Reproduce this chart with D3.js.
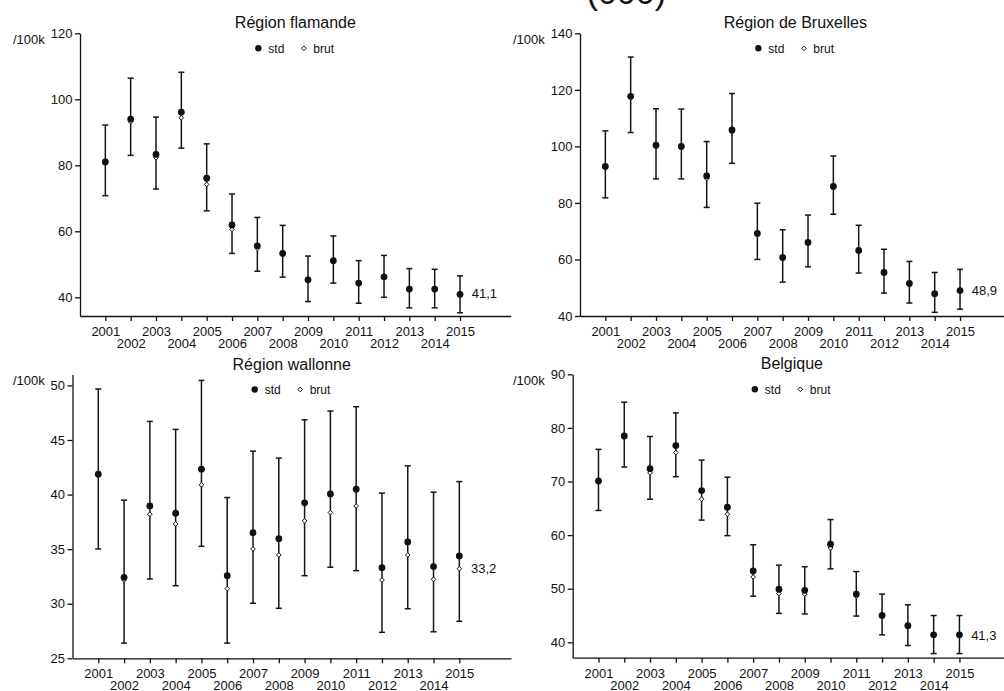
<!DOCTYPE html>
<html>
<head>
<meta charset="utf-8">
<script src="https://cdn.jsdelivr.net/npm/d3@7"></script>
<style>
  body { margin: 0; background: #fff; }
  svg { display: block; font-family: "Liberation Sans", Arial, sans-serif; }
</style>
</head>
<body>
<div id="chart"></div>
<script>
        // years on the x axis
        var years = d3.range(2001, 2016);

        // Région flamande
        var flaStd  = [81.0, 94.0, 83.3, 96.1, 76.1, 61.9, 55.6, 53.3, 45.3, 51.1, 44.3, 46.2, 42.5, 42.5, 40.9];
        var flaBrut = [81.0, 93.2, 82.3, 94.4, 74.2, 60.6, 54.8, 53.1, 45.3, 51.0, 44.3, 46.1, 42.4, 42.3, 41.1];
        var flaLo   = [70.8, 83.0, 72.8, 85.2, 66.2, 53.3, 47.9, 46.1, 38.7, 44.3, 38.2, 40.0, 36.8, 36.8, 35.3];
        var flaHi   = [92.2, 106.4, 94.6, 108.2, 86.5, 71.3, 64.2, 61.8, 52.5, 58.6, 51.1, 52.7, 48.7, 48.5, 46.5];

        // Région de Bruxelles
        var bruStd  = [92.9, 117.7, 100.4, 100.0, 89.6, 105.8, 69.2, 60.7, 66.0, 85.8, 63.2, 55.4, 51.5, 47.9, 49.0];
        var bruBrut = [92.8, 117.4, 100.2, 99.6, 88.6, 105.1, 69.1, 60.6, 65.9, 85.6, 63.1, 55.3, 51.4, 47.8, 48.9];
        var bruLo   = [81.8, 104.9, 88.5, 88.5, 78.4, 94.0, 60.0, 52.0, 57.4, 76.0, 55.2, 48.1, 44.6, 41.3, 42.4];
        var bruHi   = [105.5, 131.6, 113.3, 113.2, 101.7, 118.7, 79.9, 70.5, 75.7, 96.6, 72.1, 63.6, 59.3, 55.4, 56.5];

        // Région wallonne
        var walStd  = [41.87, 32.42, 38.96, 38.29, 42.33, 32.57, 36.51, 35.96, 39.24, 40.06, 40.49, 33.30, 35.66, 33.40, 34.38];
        var walBrut = [41.80, 32.17, 38.20, 37.31, 40.89, 31.38, 35.02, 34.47, 37.59, 38.35, 38.96, 32.17, 34.47, 32.24, 33.20];
        var walLo   = [35.02, 26.39, 32.27, 31.65, 35.26, 26.39, 30.04, 29.58, 32.57, 33.34, 33.03, 27.38, 29.54, 27.43, 28.39];
        var walHi   = [49.67, 39.49, 46.70, 45.97, 50.46, 39.73, 43.98, 43.34, 46.85, 47.65, 48.05, 40.13, 42.63, 40.22, 41.19];

        // Belgique
        var belStd  = [70.1, 78.5, 72.4, 76.7, 68.3, 65.2, 53.3, 49.9, 49.7, 58.3, 49.0, 45.0, 43.1, 41.4, 41.4];
        var belBrut = [70.0, 78.2, 71.6, 75.4, 66.7, 63.9, 52.2, 49.1, 49.0, 57.6, 48.6, 44.9, 43.0, 41.3, 41.3];
        var belLo   = [64.6, 72.7, 66.7, 70.9, 62.8, 59.9, 48.6, 45.4, 45.3, 53.7, 44.9, 41.4, 39.4, 37.9, 37.9];
        var belHi   = [76.0, 84.8, 78.4, 82.8, 74.0, 70.8, 58.2, 54.4, 54.1, 62.9, 53.2, 49.0, 47.0, 45.0, 45.0];

        // y tick values of each panel
        var flaTicks = [40, 60, 80, 100, 120];
        var bruTicks = [40, 60, 80, 100, 120, 140];
        var walTicks = [25, 30, 35, 40, 45, 50];
        var belTicks = [40, 50, 60, 70, 80, 90];

        var titles = ["Région flamande", "Région de Bruxelles", "Région wallonne", "Belgique"];

        //Width and height
        var w = 1004;
        var h = 691;

        var svg = d3.select("#chart")
                    .append("svg")
                    .attr("width", w)
                    .attr("height", h);

        // cropped main title (only its lower edge shows)
        svg.append("text")
           .attr("x", 666)
           .attr("y", 4)
           .attr("text-anchor", "end")
           .attr("font-size", "34px")
           .attr("fill", "#111")
           .text("(000)");

        var panels = [
            { title: titles[0], std: flaStd, brut: flaBrut, lo: flaLo, hi: flaHi, ticks: flaTicks,
              ydom: [34.33, 120], x0: 80, x1: 510.7, top: 33.3, bottom: 316, ox: 0 },
            { title: titles[1], std: bruStd, brut: bruBrut, lo: bruLo, hi: bruHi, ticks: bruTicks,
              ydom: [40, 140], x0: 580, x1: 1010.7, top: 33.3, bottom: 316, ox: 500 },
            { title: titles[2], std: walStd, brut: walBrut, lo: walLo, hi: walHi, ticks: walTicks,
              ydom: [25, 51], x0: 72.5, x1: 510.9, top: 374.5, bottom: 658.3, ox: 0 },
            { title: titles[3], std: belStd, brut: belBrut, lo: belLo, hi: belHi, ticks: belTicks,
              ydom: [37.13, 90], x0: 572.7, x1: 1011, top: 374.3, bottom: 657.7, ox: 500 }
        ];

        var fmt = function(v) { return d3.format(".1f")(v).replace(".", ","); };

        panels.forEach(function(p) {

            var xScale = d3.scaleLinear()
                           .domain([2000, 2017])
                           .range([p.x0, p.x1]);

            var yScale = d3.scaleLinear()
                           .domain(p.ydom)
                           .range([p.bottom, p.top]);

            var g = svg.append("g");
            var cx = (p.x0 + p.x1) / 2;

            // panel title
            g.append("text")
             .attr("x", cx)
             .attr("y", p.top - 5)
             .attr("text-anchor", "middle")
             .attr("font-size", "16px")
             .attr("fill", "#111")
             .text(p.title);

            // unit label
            g.append("text")
             .attr("x", p.ox + 13)
             .attr("y", p.top + 10.5)
             .attr("font-size", "13px")
             .attr("fill", "#111")
             .text("/100k");

            // legend
            var ly = p.top + 15;
            g.append("circle")
             .attr("cx", cx - 37)
             .attr("cy", ly)
             .attr("r", 3.2)
             .attr("fill", "#111");
            g.append("text")
             .attr("x", cx - 27)
             .attr("y", ly + 4.2)
             .attr("font-size", "12px")
             .attr("fill", "#111")
             .text("std");
            g.append("path")
             .attr("d", d3.symbol().type(d3.symbolDiamond2).size(14))
             .attr("transform", "translate(" + (cx + 8.5) + "," + ly + ")")
             .attr("fill", "#fff")
             .attr("stroke", "#111")
             .attr("stroke-width", 1);
            g.append("text")
             .attr("x", cx + 18)
             .attr("y", ly + 4.2)
             .attr("font-size", "12px")
             .attr("fill", "#111")
             .text("brut");

            // axes
            var x_axis = d3.axisBottom(xScale)
                           .tickValues(years)
                           .tickFormat(d3.format("d"))
                           .tickSize(5)
                           .tickSizeOuter(0);

            var xg = g.append("g")
                      .attr("transform", "translate(0," + p.bottom + ")")
                      .call(x_axis);
            xg.selectAll("text")
              .attr("dy", null)
              .attr("y", function(d) { return d % 2 ? 20 : 32; });

            var y_axis = d3.axisLeft(yScale)
                           .tickValues(p.ticks)
                           .tickSize(5)
                           .tickPadding(2.5)
                           .tickSizeOuter(0);

            var yg = g.append("g")
                      .attr("transform", "translate(" + p.x0 + ",0)")
                      .call(y_axis);

            [xg, yg].forEach(function(a) {
                a.attr("font-family", null)
                 .attr("font-size", "13px");
                a.selectAll("text").attr("fill", "#111");
                a.selectAll("line, path")
                 .attr("stroke", "#111")
                 .attr("stroke-width", 1.3);
            });

            // error bars
            var bars = g.selectAll("g.bar")
                        .data(years)
                        .enter()
                        .append("g")
                        .attr("class", "bar")
                        .attr("stroke", "#151515")
                        .attr("stroke-width", 1.5);

            bars.append("line")
                .attr("x1", function(d) { return xScale(d); })
                .attr("x2", function(d) { return xScale(d); })
                .attr("y1", function(d, i) { return yScale(p.lo[i]); })
                .attr("y2", function(d, i) { return yScale(p.hi[i]); });

            bars.append("line")
                .attr("x1", function(d) { return xScale(d) - 3; })
                .attr("x2", function(d) { return xScale(d) + 3; })
                .attr("y1", function(d, i) { return yScale(p.hi[i]); })
                .attr("y2", function(d, i) { return yScale(p.hi[i]); });

            bars.append("line")
                .attr("x1", function(d) { return xScale(d) - 3; })
                .attr("x2", function(d) { return xScale(d) + 3; })
                .attr("y1", function(d, i) { return yScale(p.lo[i]); })
                .attr("y2", function(d, i) { return yScale(p.lo[i]); });

            // crude rate
            g.selectAll("path.brut")
             .data(years)
             .enter()
             .append("path")
             .attr("class", "brut")
             .attr("d", d3.symbol().type(d3.symbolDiamond2).size(14))
             .attr("transform", function(d, i) {
                 return "translate(" + xScale(d) + "," + yScale(p.brut[i]) + ")";
             })
             .attr("fill", "#fff")
             .attr("stroke", "#111")
             .attr("stroke-width", 1);

            // standardised rate, drawn over the crude one
            g.selectAll("circle.std")
             .data(years)
             .enter()
             .append("circle")
             .attr("class", "std")
             .attr("cx", function(d) { return xScale(d); })
             .attr("cy", function(d, i) { return yScale(p.std[i]); })
             .attr("r", 3.4)
             .attr("fill", "#111");

            // last value label
            var last = years.length - 1;
            g.append("text")
             .attr("x", xScale(years[last]) + 11.7)
             .attr("y", yScale(p.brut[last]) + 4.5)
             .attr("font-size", "13px")
             .attr("fill", "#111")
             .text(fmt(p.brut[last]));
        });
</script>
</body>
</html>
